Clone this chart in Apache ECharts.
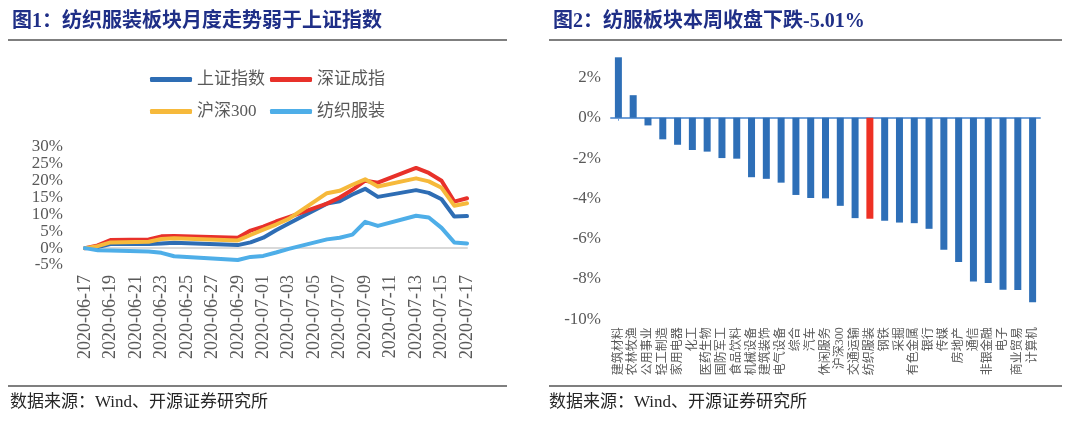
<!DOCTYPE html>
<html><head><meta charset="utf-8">
<script src="https://cdn.jsdelivr.net/npm/echarts@6/dist/echarts.min.js"></script>
<style>html,body{margin:0;padding:0;background:#fff}#c{width:1080px;height:427px}</style>
</head><body><div id="c"></div>
<script>
// ---- Chart 1 data (cumulative change, %) ----
const axisDays = ['2020-06-17','2020-06-18','2020-06-19','2020-06-20','2020-06-21','2020-06-22','2020-06-23','2020-06-24','2020-06-25','2020-06-26','2020-06-27','2020-06-28','2020-06-29','2020-06-30','2020-07-01','2020-07-02','2020-07-03','2020-07-04','2020-07-05','2020-07-06','2020-07-07','2020-07-08','2020-07-09','2020-07-10','2020-07-11','2020-07-12','2020-07-13','2020-07-14','2020-07-15','2020-07-16','2020-07-17'];
const tradeDays = ['2020-06-17','2020-06-18','2020-06-19','2020-06-22','2020-06-23','2020-06-24','2020-06-29','2020-06-30','2020-07-01','2020-07-02','2020-07-03','2020-07-06','2020-07-07','2020-07-08','2020-07-09','2020-07-10','2020-07-13','2020-07-14','2020-07-15','2020-07-16','2020-07-17'];
const shIndex = [0, 0.3, 1.2, 1.2, 1.4, 1.6, 0.9, 1.7, 3.1, 5.3, 7.3, 13.2, 13.9, 15.9, 17.6, 15.2, 17.2, 16.4, 14.5, 9.4, 9.5];
const szIndex = [0, 0.8, 2.4, 2.6, 3.5, 3.6, 3.1, 5.2, 6.4, 7.9, 9.2, 13.2, 15.0, 17.3, 20.0, 19.4, 23.8, 22.3, 20.0, 13.8, 14.8];
const hs300   = [0, 0.6, 1.7, 1.9, 2.7, 2.9, 2.3, 3.9, 5.5, 7.0, 8.7, 16.3, 17.0, 18.8, 20.4, 18.3, 20.7, 19.8, 17.9, 12.6, 13.3];
const textile = [0, -0.6, -0.7, -1.0, -1.4, -2.4, -3.5, -2.6, -2.3, -1.3, -0.2, 2.6, 3.1, 4.0, 7.8, 6.6, 9.6, 9.1, 6.0, 1.7, 1.4];
const lineNames = ['上证指数','深证成指','沪深300','纺织服装'];
// ---- Chart 2 data (weekly change, %) ----
const sectors = ['建筑材料','农林牧渔','公用事业','轻工制造','家用电器','化工','医药生物','国防军工','食品饮料','机械设备','建筑装饰','电气设备','综合','汽车','休闲服务','沪深300','交通运输','纺织服装','钢铁','采掘','有色金属','银行','传媒','房地产','通信','非银金融','电子','商业贸易','计算机'];
const weeklyChange = [3.0, 1.12, -0.38, -1.07, -1.34, -1.6, -1.68, -2.0, -2.03, -2.95, -3.03, -3.22, -3.83, -3.98, -4.0, -4.37, -4.98, -5.01, -5.11, -5.2, -5.23, -5.51, -6.55, -7.16, -8.12, -8.2, -8.53, -8.54, -9.16];
const highlight = '纺织服装';

const FONT = '"Liberation Serif","Noto Sans CJK SC",serif';
const GREY = '#595959';
const lineColors = ['#2e6db4','#e8312a','#f6b93b','#4eaee8'];
const lineData = [shIndex, szIndex, hs300, textile];

const chart = echarts.init(document.getElementById('c'));
const legendPos = [[150,71],[270,71],[150,103],[270,103]];
const option = {
  backgroundColor: '#fff',
  animation: false,
  title: [
    {text:'图1：纺织服装板块月度走势弱于上证指数', left:12, top:12, padding:0, textStyle:{fontSize:20, fontWeight:'bold', color:'#1f2f87', fontFamily:FONT}},
    {text:'图2：纺服板块本周收盘下跌-5.01%', left:553, top:12, padding:0, textStyle:{fontSize:20, fontWeight:'bold', color:'#1f2f87', fontFamily:FONT}},
    {text:'数据来源：Wind、开源证券研究所', left:10, top:394, padding:0, textStyle:{fontSize:17, fontWeight:'normal', color:'#262626', fontFamily:FONT}},
    {text:'数据来源：Wind、开源证券研究所', left:549, top:394, padding:0, textStyle:{fontSize:17, fontWeight:'normal', color:'#262626', fontFamily:FONT}}
  ],
  graphic: [
    {type:'rect', shape:{x:8, y:39, width:499, height:2}, style:{fill:'#7f7f7f'}},
    {type:'rect', shape:{x:549, y:39, width:513, height:2}, style:{fill:'#7f7f7f'}},
    {type:'rect', shape:{x:8, y:385, width:499, height:2}, style:{fill:'#7f7f7f'}},
    {type:'rect', shape:{x:549, y:385, width:513, height:2}, style:{fill:'#7f7f7f'}}
  ],
  legend: lineNames.map((n,i)=>({
    data:[n], left:legendPos[i][0], top:legendPos[i][1], padding:0, selectedMode:false,
    icon:'roundRect', itemWidth:42, itemHeight:5,
    textStyle:{fontSize:17, color:GREY, fontFamily:FONT}
  })),
  grid: [
    {left:85, right:613, top:147, bottom:162},
    {left:611, right:40, top:57.3, bottom:107.7}
  ],
  xAxis: [
    {type:'category', gridIndex:0, data:axisDays, boundaryGap:false, position:'bottom',
      axisLine:{show:false, onZero:false}, axisTick:{show:false},
      axisLabel:{rotate:90, interval:1, fontSize:18, color:GREY, fontFamily:FONT, margin:10}},
    {type:'category', gridIndex:0, data:axisDays, boundaryGap:false, position:'bottom',
      axisLine:{show:true, onZero:true, lineStyle:{color:'#d9d9d9', width:2}}, axisTick:{show:false}, axisLabel:{show:false}},
    {type:'category', gridIndex:1, data:sectors, position:'bottom',
      axisLine:{show:false, onZero:false}, axisTick:{show:false},
      axisLabel:{rotate:90, interval:0, fontSize:12, color:GREY, fontFamily:FONT, margin:8}},
    {type:'category', gridIndex:1, data:sectors, position:'bottom',
      axisLine:{show:true, onZero:true, lineStyle:{color:'#6f9fd8', width:2}},
      axisTick:{show:true, alignWithLabel:true, length:3, lineStyle:{color:'#6f9fd8'}}, axisLabel:{show:false}}
  ],
  yAxis: [
    {type:'value', gridIndex:0, min:-5, max:30, interval:5, splitLine:{show:false}, axisLine:{show:false}, axisTick:{show:false},
      axisLabel:{formatter:'{value}%', fontSize:17, color:GREY, fontFamily:FONT, margin:22}},
    {type:'value', gridIndex:1, min:-10, max:3, interval:2, splitLine:{show:false}, axisLine:{show:false}, axisTick:{show:false},
      axisLabel:{formatter:v=> (v % 2 === 0 ? v + '%' : ''), fontSize:17, color:GREY, fontFamily:FONT, margin:10}}
  ],
  series: [
    ...lineNames.map((n,i)=>({
      name:n, type:'line', xAxisIndex:0, yAxisIndex:0, symbol:'none', smooth:false,
      data: tradeDays.map((d,k)=>[d, lineData[i][k]]),
      lineStyle:{width:4, color:lineColors[i], cap:'round', join:'round'},
      itemStyle:{color:lineColors[i]}
    })),
    {type:'bar', xAxisIndex:2, yAxisIndex:1, barWidth:7,
      data: weeklyChange.map((v,i)=>({value:v, itemStyle:{color: sectors[i]===highlight ? '#ee3124' : '#2e6fb7'}}))}
  ]
};
chart.setOption(option);
</script></body></html>
